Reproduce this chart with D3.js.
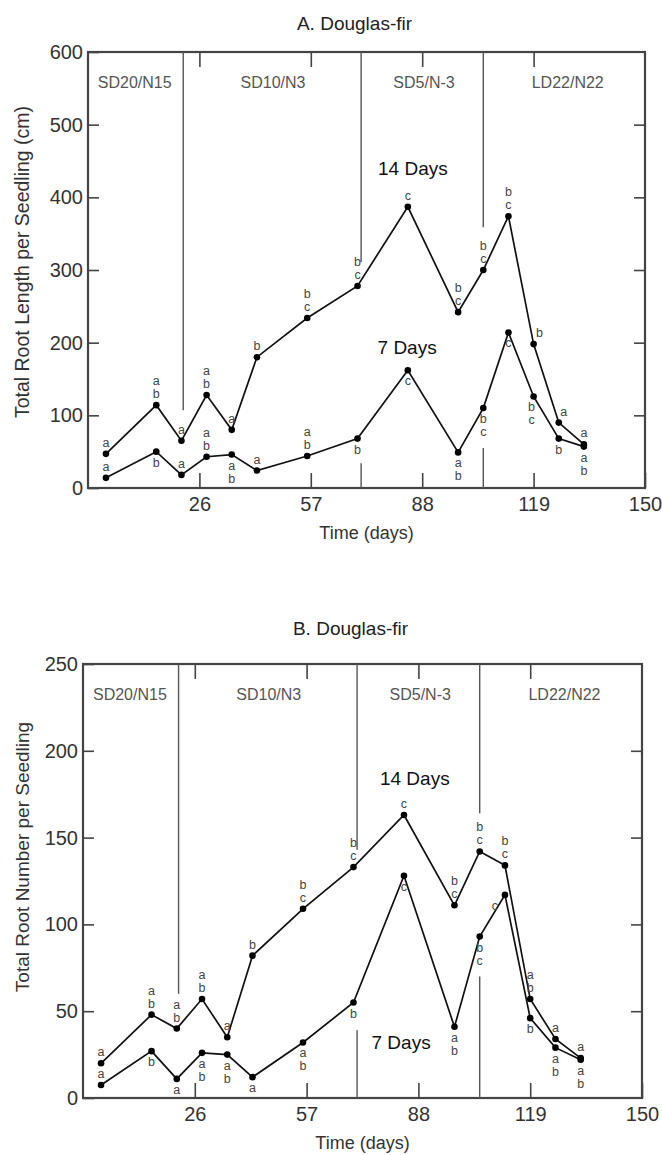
<!DOCTYPE html>
<html>
<head>
<meta charset="utf-8">
<script src="https://cdn.jsdelivr.net/npm/d3@7"></script>
<style>
  body { margin: 0; background: #fff; }
  text { font-family: "Liberation Sans", Arial, sans-serif; }
</style>
</head>
<body>
<svg id="fig" width="662" height="1155"></svg>
<script>
// sampling days (x)
const days = [0, 14, 21, 28, 35, 42, 56, 70, 84, 98, 105, 112, 119, 126, 133];

// A. total root length (cm)
const length14 = [47, 114, 65, 128, 80, 180, 234, 278, 387, 242, 300, 374, 198, 90, 60];
const length7 = [14, 50, 18, 43, 46, 24, 44, 68, 162, 49, 110, 214, 126, 68, 57];
const lengthLetters14 = ["a", "ab", "a", "ab", "a", "b", "bc", "bc", "c", "bc", "bc", "bc", "b", "a", "a"];
const lengthLetters7 = ["a", "b", "a", "ab", "ab", "a", "ab", "b", "c", "ab", "bc", "c", "bc", "b", "ab"];
const lengthSide7 = ["up", "down", "up", "up", "down", "up", "up", "down", "down", "down", "down", "down", "down", "down", "down"];

// B. total root number
const number14 = [20, 48, 40, 57, 35, 82, 109, 133, 163, 111, 142, 134, 57, 34, 23];
const number7 = [7.5, 27, 11, 26, 25, 12, 32, 55, 128, 41, 93, 117, 46, 29, 22];
const numberLetters14 = ["a", "ab", "ab", "ab", "a", "b", "bc", "bc", "c", "bc", "bc", "bc", "ab", "a", "a"];
const numberLetters7 = ["a", "b", "a", "ab", "ab", "a", "ab", "b", "c", "ab", "bc", "c", "b", "ab", "ab"];
const numberSide7 = ["up", "down", "down", "down", "down", "down", "down", "down", "down", "down", "down", "down", "down", "down", "down"];

// photoperiod / nitrogen phases
const phaseNames = ["SD20/N15", "SD10/N3", "SD5/N-3", "LD22/N22"];
const phaseCentres = [8, 46.5, 88.5, 128.5];
const dividerDays = [21.5, 71, 105];

const xTicks = [26, 57, 88, 119, 150];

const svg = d3.select("#fig");

function drawPanel(p) {
  const g = svg.append("g").attr("transform", `translate(${p.left},${p.top})`);

  const x = d3.scaleLinear().domain([-5, 150]).range([0, p.width]);
  const y = d3.scaleLinear().domain([0, p.yMax]).range([p.height, 0]);
  const yTicks = d3.range(0, p.yMax + 1, p.yStep);

  // axes (inner ticks)
  const ax = [
    g.append("g").call(d3.axisLeft(y).tickValues(yTicks).tickSize(-11).tickPadding(5)),
    g.append("g").attr("transform", `translate(${p.width},0)`)
      .call(d3.axisRight(y).tickValues(yTicks.slice(1, -1)).tickSize(-11).tickFormat("")),
    g.append("g").call(d3.axisTop(x).tickValues(xTicks.slice(0, 4)).tickSize(-15).tickFormat("")),
    g.append("g").attr("transform", `translate(0,${p.height})`)
      .call(d3.axisBottom(x).tickValues(xTicks).tickSize(-15).tickPadding(9))
  ];
  ax.forEach(a => {
    a.select(".domain").remove();
    a.selectAll(".tick line").attr("stroke", "#444").attr("stroke-width", 1.6);
    a.selectAll(".tick text").attr("fill", "#333").style("font-size", "20px")
      .style("font-family", "'Liberation Sans', Arial, sans-serif");
  });

  g.append("rect")
    .attr("width", p.width)
    .attr("height", p.height)
    .attr("fill", "none")
    .attr("stroke", "#444")
    .attr("stroke-width", 2.2);

  // phase dividers, broken around the data
  dividerDays.forEach((d, i) => {
    p.dividerSegs[i].forEach(s => {
      g.append("line")
        .attr("x1", x(d)).attr("x2", x(d))
        .attr("y1", y(s[0])).attr("y2", y(s[1]))
        .attr("stroke", "#555")
        .attr("stroke-width", 1.4);
    });
  });

  g.selectAll(".phase")
    .data(phaseNames)
    .enter()
    .append("text")
    .attr("x", (d, i) => x(phaseCentres[i]))
    .attr("y", 30)
    .attr("text-anchor", "middle")
    .attr("dominant-baseline", "central")
    .style("font-size", "16px")
    .attr("fill", "#555")
    .text(d => d);

  const line = d3.line().x(d => x(d[0])).y(d => y(d[1]));

  [p.s14, p.s7].forEach(s => {
    const pts = days.map((d, i) => [d, s[i]]);
    g.append("path")
      .attr("d", line(pts))
      .attr("fill", "none")
      .attr("stroke", "#111")
      .attr("stroke-width", 1.7);
    g.selectAll(null)
      .data(pts)
      .enter()
      .append("circle")
      .attr("cx", d => x(d[0]))
      .attr("cy", d => y(d[1]))
      .attr("r", 3.3)
      .attr("fill", "#000");
  });

  // significance letters
  const letters = (s, lab, side, nudge) => {
    days.forEach((d, i) => {
      const chars = lab[i].split("");
      const n = chars.length;
      const dx = nudge[i] || 0;
      chars.forEach((c, k) => {
        const yy = side[i] === "up"
          ? y(s[i]) - 11 - (n - 1 - k) * 13
          : y(s[i]) + 11 + k * 13;
        g.append("text")
          .attr("x", x(d) + dx)
          .attr("y", yy)
          .attr("text-anchor", "middle")
          .attr("dominant-baseline", "central")
          .style("font-size", "12.5px")
          .attr("fill", "#444")
          .text(c);
      });
    });
  };
  letters(p.s14, p.l14, days.map(() => "up"), p.nudge14);
  letters(p.s7, p.l7, p.side7, p.nudge7);

  // series names
  [["14 Days", p.name14], ["7 Days", p.name7]].forEach(([t, pos]) => {
    g.append("text")
      .attr("x", x(pos[0]))
      .attr("y", y(pos[1]))
      .attr("text-anchor", "middle")
      .attr("dominant-baseline", "central")
      .style("font-size", "19px")
      .attr("fill", "#111")
      .text(t);
  });

  g.append("text")
    .attr("x", p.width / 2)
    .attr("y", p.height + 45)
    .attr("text-anchor", "middle")
    .attr("dominant-baseline", "central")
    .style("font-size", "18px")
    .attr("fill", "#333")
    .text("Time (days)");

  svg.append("text")
    .attr("transform", `translate(22,${p.yLabelY}) rotate(-90)`)
    .attr("text-anchor", "middle")
    .attr("dominant-baseline", "central")
    .style("font-size", p.yLabelSize)
    .attr("fill", "#333")
    .text(p.yLabel);

  svg.append("text")
    .attr("x", p.left + p.width / 2 - 12)
    .attr("y", p.titleY)
    .attr("text-anchor", "middle")
    .attr("dominant-baseline", "central")
    .style("font-size", "19px")
    .attr("fill", "#222")
    .text(p.title);
}

drawPanel({
  left: 88, top: 52, width: 557, height: 436,
  yMax: 600, yStep: 100,
  s14: length14, s7: length7,
  l14: lengthLetters14, l7: lengthLetters7, side7: lengthSide7,
  nudge14: { 12: 6, 13: 5 }, nudge7: { 12: -2 },
  dividerSegs: [[[107, 600]], [[311, 600], [0, 34]], [[359, 600], [0, 55]]],
  name14: [85.4, 439], name7: [83.8, 194],
  title: "A. Douglas-fir", titleY: 23,
  yLabel: "Total Root Length per Seedling (cm)", yLabelY: 262, yLabelSize: "19.5px"
});

drawPanel({
  left: 83, top: 664, width: 559, height: 434,
  yMax: 250, yStep: 50,
  s14: number14, s7: number7,
  l14: numberLetters14, l7: numberLetters7, side7: numberSide7,
  nudge14: {}, nudge7: { 11: -10 },
  dividerSegs: [[[60, 250]], [[143, 250], [0, 39]], [[164, 250], [0, 70]]],
  name14: [87, 184], name7: [83.2, 32],
  title: "B. Douglas-fir", titleY: 628,
  yLabel: "Total Root Number per Seedling", yLabelY: 857, yLabelSize: "19px"
});
</script>
</body>
</html>
